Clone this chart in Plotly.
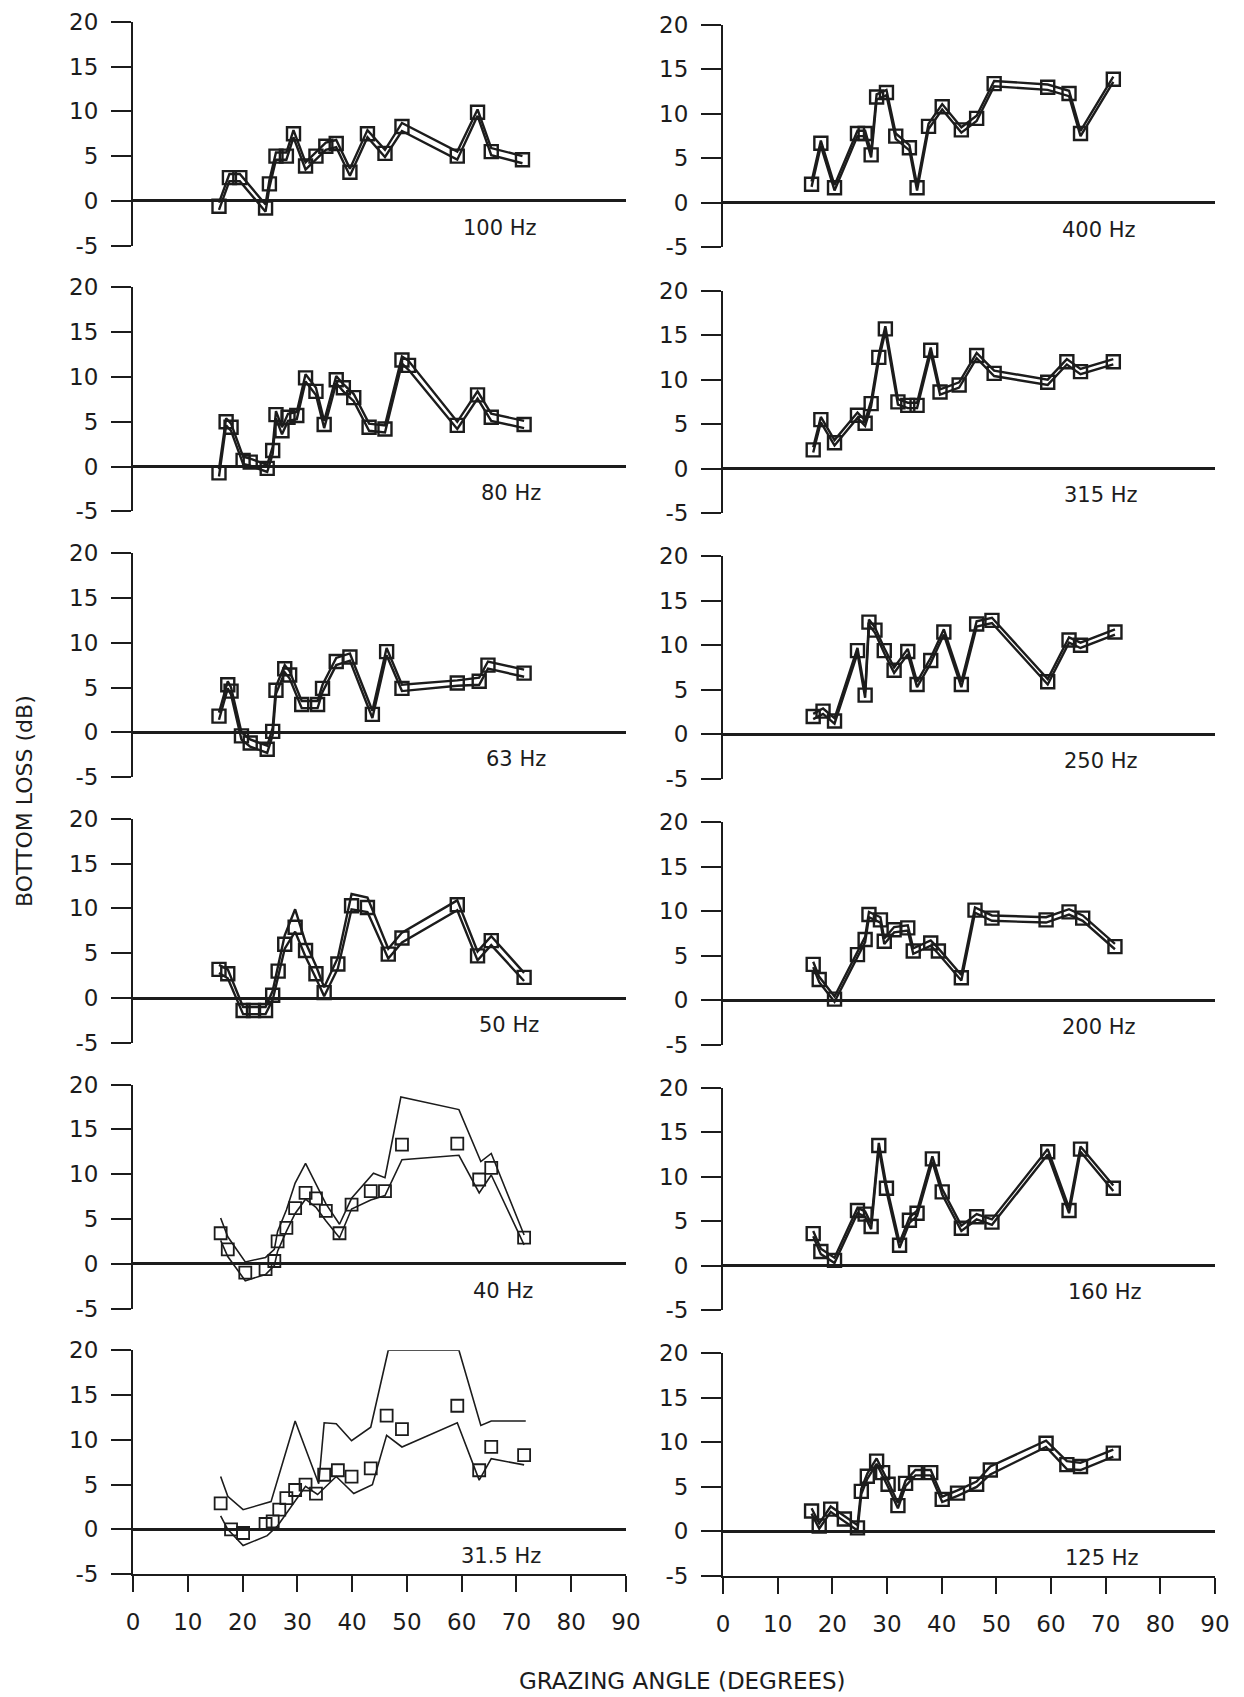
import plotly.graph_objects as go

# ---------------- data: bottom loss (dB) vs grazing angle (deg) ----------------
# Left column (low frequencies)
ANG_100 = [15.7, 17.6, 19.5, 24.2, 24.9, 26.1, 28.0, 29.3, 31.5, 33.4, 35.2, 37.1, 39.6, 42.8, 46.0, 49.1, 59.2, 62.9, 65.4, 71.1]
LOSS_100 = [-0.6, 2.6, 2.6, -0.8, 1.9, 5.0, 5.0, 7.5, 3.9, 5.0, 6.1, 6.4, 3.2, 7.5, 5.3, 8.3, 5.0, 9.9, 5.5, 4.6]
UP_100 = [-0.2, 3.0, 3.0, -0.4, 2.3, 5.4, 5.4, 7.9, 4.3, 5.4, 6.5, 6.8, 3.6, 7.9, 5.7, 8.7, 5.5, 10.2, 5.9, 5.0]
LO_100 = [-1.0, 2.2, 2.2, -1.2, 1.5, 4.6, 4.6, 7.1, 3.5, 4.6, 5.7, 6.0, 2.8, 7.1, 4.9, 7.8, 4.6, 9.5, 5.1, 4.2]

ANG_80 = [15.7, 17.0, 17.9, 20.1, 21.4, 24.5, 25.5, 26.1, 27.2, 28.3, 29.9, 31.5, 33.4, 34.9, 37.1, 38.4, 40.3, 43.1, 46.0, 49.1, 50.3, 59.2, 62.9, 65.4, 71.4]
LOSS_80 = [-0.7, 5.0, 4.4, 0.7, 0.5, -0.2, 1.8, 5.8, 4.0, 5.5, 5.7, 9.9, 8.4, 4.7, 9.7, 8.8, 7.7, 4.4, 4.2, 11.9, 11.3, 4.6, 8.0, 5.5, 4.7]
UP_80 = [-0.3, 5.4, 4.8, 1.1, 0.9, 0.2, 2.2, 6.2, 4.4, 5.9, 6.1, 10.3, 8.8, 5.1, 10.1, 9.2, 8.1, 4.8, 4.6, 12.3, 11.8, 5.0, 8.4, 5.9, 5.1]
LO_80 = [-1.1, 4.6, 4.0, 0.3, 0.1, -0.6, 1.4, 5.4, 3.6, 5.1, 5.3, 9.5, 8.0, 4.3, 9.3, 8.4, 7.3, 4.0, 3.8, 11.5, 10.8, 4.2, 7.6, 5.1, 4.3]

ANG_63 = [15.7, 17.3, 17.9, 19.8, 21.4, 24.5, 25.5, 26.1, 27.7, 28.6, 30.8, 33.7, 34.6, 37.1, 39.6, 43.7, 46.3, 49.1, 59.2, 63.2, 64.8, 71.4]
LOSS_63 = [1.8, 5.3, 4.6, -0.4, -1.2, -1.9, 0.1, 4.7, 7.1, 6.4, 3.1, 3.1, 4.9, 7.9, 8.4, 2.0, 9.0, 4.9, 5.5, 5.7, 7.5, 6.6]
UP_63 = [2.2, 5.7, 5.0, 0.0, -0.8, -1.5, 0.5, 5.1, 7.5, 6.8, 3.5, 3.5, 5.3, 8.3, 8.8, 2.4, 9.4, 5.3, 5.8, 6.1, 7.9, 7.0]
LO_63 = [1.4, 4.9, 4.2, -0.8, -1.6, -2.3, -0.3, 4.3, 6.7, 6.0, 2.7, 2.7, 4.5, 7.5, 8.0, 1.6, 8.6, 4.6, 5.2, 5.3, 7.1, 6.2]

ANG_50 = [15.7, 17.3, 20.1, 22.0, 24.2, 25.5, 26.5, 27.7, 29.6, 31.5, 33.4, 34.9, 37.4, 39.9, 42.8, 46.6, 49.1, 59.2, 62.9, 65.4, 71.4]
LOSS_50 = [3.2, 2.7, -1.4, -1.4, -1.4, 0.3, 3.0, 6.0, 7.9, 5.3, 2.7, 0.6, 3.8, 10.3, 10.1, 4.9, 6.7, 10.4, 4.7, 6.4, 2.3]
UP_50 = [3.7, 3.2, -1.0, -1.0, -1.0, 0.8, 3.6, 7.0, 9.9, 6.2, 3.6, 1.2, 4.5, 11.6, 11.2, 5.5, 7.3, 10.9, 5.2, 6.9, 2.8]
LO_50 = [2.8, 2.2, -1.8, -1.8, -1.8, -0.2, 2.5, 5.5, 7.4, 4.6, 2.2, 0.2, 3.3, 9.9, 9.6, 4.4, 6.2, 9.8, 4.2, 5.9, 1.9]

ANG_40 = [16.0, 17.3, 20.5, 24.2, 25.8, 26.4, 28.0, 29.6, 31.5, 33.4, 35.2, 37.7, 39.9, 43.4, 46.0, 49.1, 59.2, 63.2, 65.4, 71.4]
LOSS_40 = [3.4, 1.6, -1.0, -0.6, 0.3, 2.5, 4.0, 6.2, 7.9, 7.3, 5.9, 3.4, 6.6, 8.1, 8.1, 13.3, 13.4, 9.4, 10.7, 2.9]
UP_ANG_40 = [16.0, 17.3, 20.5, 24.2, 25.8, 26.4, 28.0, 29.6, 31.5, 33.4, 35.2, 37.7, 39.9, 43.9, 46.0, 48.9, 59.5, 63.5, 65.4, 71.4]
UP_40 = [5.1, 3.0, 0.2, 0.7, 1.6, 3.6, 6.0, 9.0, 11.2, 8.8, 6.7, 4.4, 7.3, 10.1, 9.6, 18.6, 17.2, 11.4, 12.3, 3.2]
LO_ANG_40 = [16.0, 17.3, 20.5, 24.2, 25.8, 26.4, 28.0, 29.6, 31.5, 33.4, 35.2, 37.7, 39.9, 43.4, 46.0, 49.1, 59.5, 63.2, 65.4, 71.4]
LO_40 = [2.6, 0.8, -1.9, -1.2, -0.2, 1.4, 3.6, 5.6, 7.2, 6.3, 4.8, 2.9, 6.1, 7.1, 7.6, 11.6, 12.1, 7.9, 9.9, 2.1]

ANG_31 = [16.0, 17.9, 20.1, 24.2, 25.5, 26.7, 28.0, 29.6, 31.5, 33.4, 34.9, 37.4, 39.9, 43.4, 46.3, 49.1, 59.2, 63.2, 65.4, 71.4]
LOSS_31 = [2.9, 0.0, -0.4, 0.6, 0.9, 2.2, 3.5, 4.4, 5.0, 4.0, 6.1, 6.6, 5.9, 6.8, 12.7, 11.2, 13.8, 6.6, 9.2, 8.3]
UP_ANG_31 = [16.0, 17.3, 20.1, 25.2, 29.6, 33.9, 34.9, 37.1, 39.9, 43.4, 46.6, 59.5, 63.5, 65.4, 71.7]
UP_31 = [5.9, 3.7, 2.2, 3.1, 12.1, 5.1, 11.9, 11.8, 9.9, 11.4, 20.0, 20.0, 11.6, 12.1, 12.1]
LO_ANG_31 = [16.0, 17.3, 20.1, 24.5, 26.4, 31.5, 33.7, 37.1, 40.3, 43.7, 46.3, 49.1, 59.2, 63.2, 65.4, 71.4]
LO_31 = [1.5, 0.0, -1.8, -0.7, 0.4, 4.8, 3.9, 5.9, 4.0, 5.0, 10.5, 9.2, 11.9, 5.5, 7.9, 7.2]

# Right column (high frequencies)
ANG_400 = [16.2, 17.9, 20.4, 24.6, 26.0, 27.1, 28.1, 29.9, 31.6, 34.1, 35.5, 37.6, 40.1, 43.6, 46.4, 49.6, 59.4, 63.3, 65.4, 71.4]
LOSS_400 = [2.1, 6.7, 1.7, 7.8, 7.8, 5.4, 11.9, 12.4, 7.5, 6.2, 1.7, 8.6, 10.8, 8.2, 9.5, 13.4, 13.0, 12.3, 7.8, 13.9]
UP_400 = [2.4, 7.0, 2.0, 8.1, 8.1, 5.7, 12.2, 12.7, 7.8, 6.5, 2.0, 8.9, 11.1, 8.5, 9.8, 13.7, 13.3, 12.6, 8.1, 14.2]
LO_400 = [1.8, 6.4, 1.4, 7.5, 7.5, 5.1, 11.6, 12.1, 7.2, 5.9, 1.4, 8.3, 10.5, 7.9, 9.2, 13.1, 12.7, 12.0, 7.5, 13.6]

ANG_315 = [16.5, 17.9, 20.4, 24.6, 26.0, 27.1, 28.5, 29.7, 32.0, 33.8, 35.5, 38.0, 39.7, 43.2, 46.4, 49.6, 59.4, 62.9, 65.4, 71.4]
LOSS_315 = [2.1, 5.5, 2.9, 6.0, 5.1, 7.3, 12.5, 15.7, 7.5, 7.1, 7.1, 13.3, 8.6, 9.4, 12.7, 10.7, 9.7, 12.0, 10.9, 12.0]
UP_315 = [2.4, 5.8, 3.2, 6.3, 5.4, 7.6, 12.8, 16.0, 7.8, 7.4, 7.4, 13.6, 8.9, 9.7, 13.0, 11.0, 10.0, 12.3, 11.2, 12.3]
LO_315 = [1.8, 5.2, 2.6, 5.7, 4.8, 7.0, 12.2, 15.4, 7.2, 6.8, 6.8, 13.0, 8.3, 9.1, 12.4, 10.4, 9.4, 11.7, 10.6, 11.7]

ANG_250 = [16.5, 18.3, 20.4, 24.6, 26.0, 26.7, 27.8, 29.5, 31.3, 33.8, 35.5, 38.0, 40.4, 43.6, 46.4, 49.2, 59.4, 63.3, 65.4, 71.7]
LOSS_250 = [2.0, 2.6, 1.5, 9.4, 4.4, 12.6, 11.7, 9.4, 7.2, 9.3, 5.6, 8.3, 11.5, 5.6, 12.4, 12.8, 5.9, 10.6, 10.0, 11.5]
UP_250 = [2.3, 2.9, 1.8, 9.7, 4.7, 12.9, 12.0, 9.7, 7.5, 9.6, 5.9, 8.6, 11.8, 5.9, 12.7, 13.1, 6.2, 10.9, 10.3, 11.8]
LO_250 = [1.7, 2.3, 1.2, 9.1, 4.1, 12.3, 11.4, 9.1, 6.9, 9.0, 5.3, 8.0, 11.2, 5.3, 12.1, 12.5, 5.6, 10.3, 9.7, 11.2]

ANG_200 = [16.5, 17.6, 20.4, 24.6, 26.0, 26.7, 28.8, 29.5, 31.3, 33.8, 34.8, 38.0, 39.4, 43.6, 46.1, 49.2, 59.1, 63.3, 65.8, 71.7]
LOSS_200 = [4.0, 2.3, 0.1, 5.1, 6.8, 9.6, 9.0, 6.6, 7.9, 8.1, 5.5, 6.4, 5.5, 2.5, 10.1, 9.2, 9.0, 9.9, 9.2, 6.0]
UP_200 = [4.3, 2.6, 0.4, 5.4, 7.1, 9.9, 9.3, 6.9, 8.2, 8.4, 5.8, 6.7, 5.8, 2.8, 10.4, 9.5, 9.3, 10.2, 9.5, 6.3]
LO_200 = [3.7, 2.0, -0.2, 4.8, 6.5, 9.3, 8.7, 6.3, 7.6, 7.8, 5.2, 6.1, 5.2, 2.2, 9.8, 8.9, 8.7, 9.6, 8.9, 5.7]

ANG_160 = [16.5, 17.9, 20.4, 24.6, 26.0, 27.1, 28.5, 29.9, 32.3, 34.1, 35.5, 38.3, 40.1, 43.6, 46.4, 49.2, 59.4, 63.3, 65.4, 71.4]
LOSS_160 = [3.6, 1.6, 0.6, 6.2, 5.8, 4.4, 13.5, 8.7, 2.3, 5.1, 5.9, 12.0, 8.3, 4.2, 5.5, 4.9, 12.8, 6.2, 13.1, 8.7]
UP_160 = [3.9, 1.9, 0.9, 6.5, 6.1, 4.7, 13.8, 9.0, 2.6, 5.4, 6.2, 12.3, 8.6, 4.5, 5.8, 5.2, 13.1, 6.5, 13.4, 9.0]
LO_160 = [3.3, 1.3, 0.3, 5.9, 5.5, 4.1, 13.2, 8.4, 2.0, 4.8, 5.6, 11.7, 8.0, 3.9, 5.2, 4.6, 12.5, 5.9, 12.8, 8.4]

ANG_125 = [16.2, 17.6, 19.7, 22.2, 24.6, 25.3, 26.4, 28.1, 29.2, 30.2, 32.0, 33.4, 35.2, 38.0, 40.1, 42.9, 46.4, 48.9, 59.1, 62.9, 65.4, 71.4]
LOSS_125 = [2.3, 0.6, 2.5, 1.4, 0.4, 4.5, 6.2, 7.9, 6.6, 5.3, 2.9, 5.4, 6.6, 6.6, 3.6, 4.3, 5.3, 6.9, 9.9, 7.5, 7.3, 8.8]
UP_125 = [2.6, 0.9, 2.8, 1.7, 0.7, 4.8, 6.5, 8.2, 6.9, 5.6, 3.2, 5.7, 6.9, 6.9, 3.9, 4.6, 5.6, 7.3, 10.2, 7.9, 7.7, 9.2]
LO_125 = [2.0, 0.3, 2.2, 1.1, 0.1, 4.2, 5.9, 7.6, 6.3, 5.0, 2.6, 5.1, 6.3, 6.3, 3.3, 4.0, 5.0, 6.4, 9.5, 7.0, 6.9, 8.4]

Y_TICKS = [-5, 0, 5, 10, 15, 20]
Y_TICK_TEXT = ["-5", "0", "5", "10", "15", "20"]
X_TICKS = [0, 10, 20, 30, 40, 50, 60, 70, 80, 90]
X_TICK_TEXT = ["0", "10", "20", "30", "40", "50", "60", "70", "80", "90"]

# (label, column, row, label x, angles, loss, upper angles, upper, lower angles, lower)
panels = [
    ("100 Hz", 0, 0, 67.0, ANG_100, LOSS_100, ANG_100, UP_100, ANG_100, LO_100),
    ("80 Hz", 0, 1, 69.0, ANG_80, LOSS_80, ANG_80, UP_80, ANG_80, LO_80),
    ("63 Hz", 0, 2, 70.0, ANG_63, LOSS_63, ANG_63, UP_63, ANG_63, LO_63),
    ("50 Hz", 0, 3, 68.6, ANG_50, LOSS_50, ANG_50, UP_50, ANG_50, LO_50),
    ("40 Hz", 0, 4, 67.6, ANG_40, LOSS_40, UP_ANG_40, UP_40, LO_ANG_40, LO_40),
    ("31.5 Hz", 0, 5, 67.2, ANG_31, LOSS_31, UP_ANG_31, UP_31, LO_ANG_31, LO_31),
    ("400 Hz", 1, 0, 68.8, ANG_400, LOSS_400, ANG_400, UP_400, ANG_400, LO_400),
    ("315 Hz", 1, 1, 69.2, ANG_315, LOSS_315, ANG_315, UP_315, ANG_315, LO_315),
    ("250 Hz", 1, 2, 69.2, ANG_250, LOSS_250, ANG_250, UP_250, ANG_250, LO_250),
    ("200 Hz", 1, 3, 68.8, ANG_200, LOSS_200, ANG_200, UP_200, ANG_200, LO_200),
    ("160 Hz", 1, 4, 69.8, ANG_160, LOSS_160, ANG_160, UP_160, ANG_160, LO_160),
    ("125 Hz", 1, 5, 69.4, ANG_125, LOSS_125, ANG_125, UP_125, ANG_125, LO_125),
]

# ---------------- layout geometry (pixels) ----------------
W, H = 1244, 1697
INK = "#1c1c1c"
FONT = "DejaVu Sans"
COL_X = [(133, 626), (723, 1215)]          # x = 0 .. 90 deg
COL_TOP = [21.7, 24.9]                     # y = 20 dB on first row
COL_HEIGHT = [224.0, 222.5]                # 20 .. -5 dB
ROW_PITCH = 265.7

fig = go.Figure()
layout = dict(
    width=W, height=H,
    margin=dict(l=0, r=0, t=0, b=0, pad=0),
    paper_bgcolor="white", plot_bgcolor="white",
    showlegend=False,
    font=dict(family=FONT, color=INK, size=21),
    annotations=[],
)

for i, (label, col, row, lab_x, ang, loss, uang, up, lang, lo) in enumerate(panels):
    n = i + 1
    xs = "" if n == 1 else str(n)
    xref, yref = "x" + xs, "y" + xs
    top = COL_TOP[col] + ROW_PITCH * row
    bottom = top + COL_HEIGHT[col]
    bottom_row = row == 5
    spread = col == 0 and row >= 4
    lw = 1.6 if spread else 2.4

    for xa, ya in ((uang, up), (lang, lo)):
        fig.add_trace(go.Scatter(
            x=xa, y=ya, mode="lines", xaxis=xref, yaxis=yref,
            line=dict(color=INK, width=lw), cliponaxis=False, hoverinfo="skip",
        ))
    fig.add_trace(go.Scatter(
        x=ang, y=loss, mode="markers", xaxis=xref, yaxis=yref,
        marker=dict(symbol="square-open", size=12 if spread else 13, color=INK,
                    line=dict(color=INK, width=1.8 if spread else 2.4)),
        cliponaxis=False,
    ))

    layout["xaxis" + xs] = dict(
        domain=[COL_X[col][0] / W, COL_X[col][1] / W],
        range=[0, 90], anchor=yref, automargin=False,
        showgrid=False, zeroline=False,
        showline=bottom_row, linecolor=INK, linewidth=2,
        ticks="outside" if bottom_row else "", ticklen=16, tickwidth=2, tickcolor=INK,
        tickvals=X_TICKS, ticktext=X_TICK_TEXT,
        showticklabels=bottom_row, ticklabelstandoff=10,
        tickfont=dict(size=23, family=FONT, color=INK),
    )
    layout["yaxis" + xs] = dict(
        domain=[1 - bottom / H, 1 - top / H],
        range=[-5, 20], anchor=xref, automargin=False,
        showgrid=False,
        zeroline=True, zerolinecolor=INK, zerolinewidth=2.5,
        showline=True, linecolor=INK, linewidth=2,
        ticks="outside", ticklen=20, tickwidth=2, tickcolor=INK,
        tickvals=Y_TICKS, ticktext=Y_TICK_TEXT, ticklabelstandoff=8,
        tickfont=dict(size=23, family=FONT, color=INK),
    )
    layout["annotations"].append(dict(
        x=lab_x, y=-3.0, xref=xref, yref=yref, text=label, showarrow=False,
        xanchor="center", yanchor="middle",
        font=dict(size=21, family=FONT, color=INK),
    ))

layout["annotations"].append(dict(
    x=24 / W, y=1 - 801 / H, xref="paper", yref="paper",
    xanchor="center", yanchor="middle",
    text="BOTTOM LOSS (dB)", textangle=-90, showarrow=False,
    font=dict(size=22, family=FONT, color=INK),
))
layout["annotations"].append(dict(
    x=682 / W, y=1 - 1681 / H, xref="paper", yref="paper",
    xanchor="center", yanchor="middle",
    text="GRAZING ANGLE (DEGREES)", showarrow=False,
    font=dict(size=23, family=FONT, color=INK),
))

fig.update_layout(**layout)

page_css = (
    "document.documentElement.style.margin='0';"
    "document.documentElement.style.padding='0';"
    "document.body.style.margin='0';"
    "document.body.style.padding='0';"
    "document.body.style.overflow='hidden';"
)
fig.write_html("out.html", post_script=page_css)
